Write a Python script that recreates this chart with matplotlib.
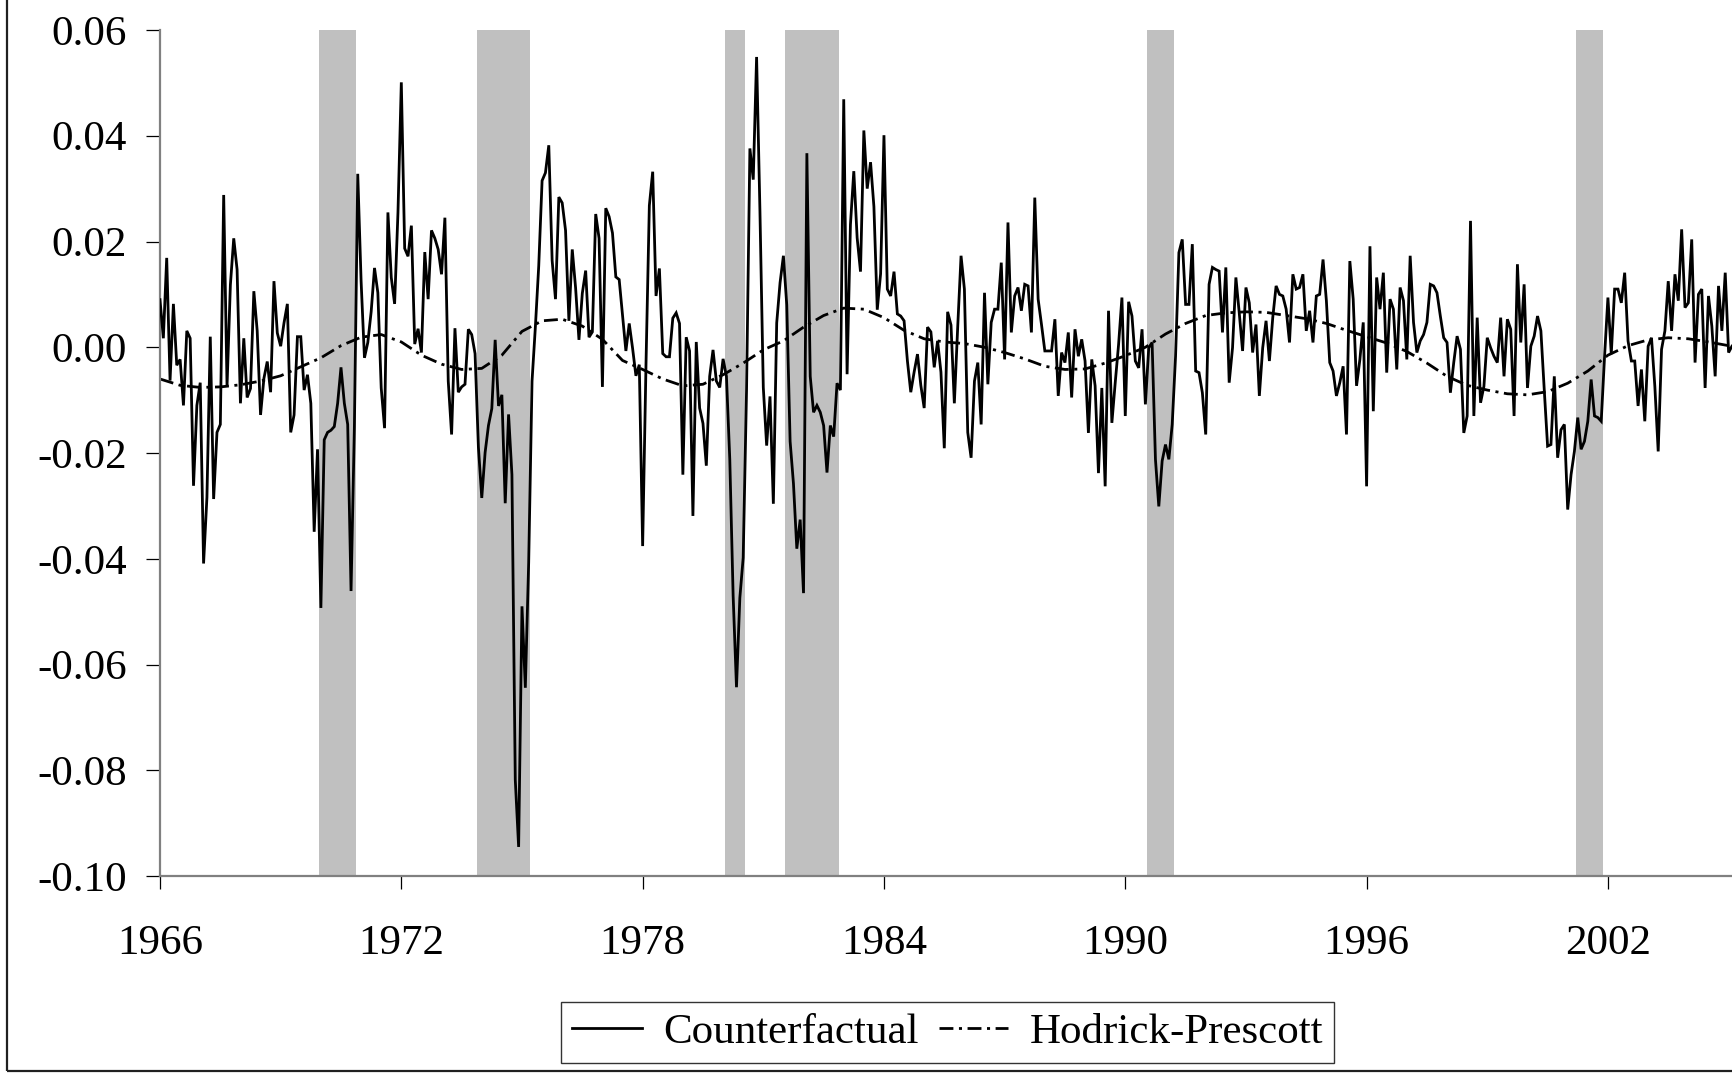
import matplotlib
matplotlib.use("Agg")
import matplotlib.pyplot as plt
import numpy as np
from matplotlib.patches import Rectangle

# ---------------- data ----------------
start_year = 1966  # monthly series starting January 1966

counterfactual = [
    # 1966
    0.0090, 0.0017, 0.0169, -0.0063, 0.0082, -0.0034, -0.0023, -0.0110, 0.0031, 0.0017, -0.0262, -0.0110,
    # 1967
    -0.0067, -0.0409, -0.0284, 0.0020, -0.0287, -0.0161, -0.0146, 0.0288, -0.0074, 0.0118, 0.0206, 0.0147,
    # 1968
    -0.0106, 0.0017, -0.0095, -0.0078, 0.0106, 0.0031, -0.0128, -0.0059, -0.0027, -0.0085, 0.0125, 0.0027,
    # 1969
    0.0002, 0.0046, 0.0082, -0.0161, -0.0128, 0.0020, 0.0020, -0.0081, -0.0052, -0.0106, -0.0349, -0.0193,
    # 1970
    -0.0493, -0.0175, -0.0161, -0.0157, -0.0150, -0.0106, -0.0038, -0.0106, -0.0146, -0.0461, -0.0150, 0.0328,
    # 1971
    0.0125, -0.0020, 0.0009, 0.0067, 0.0150, 0.0103, -0.0077, -0.0153, 0.0255, 0.0132, 0.0082, 0.0255,
    # 1972
    0.0501, 0.0187, 0.0172, 0.0230, 0.0006, 0.0035, -0.0010, 0.0180, 0.0091, 0.0221, 0.0206, 0.0185,
    # 1973
    0.0138, 0.0245, -0.0064, -0.0165, 0.0036, -0.0085, -0.0075, -0.0070, 0.0034, 0.0024, -0.0012, -0.0189,
    # 1974
    -0.0285, -0.0199, -0.0148, -0.0116, 0.0014, -0.0111, -0.0090, -0.0295, -0.0127, -0.0241, -0.0818, -0.0945,
    # 1975
    -0.0490, -0.0644, -0.0407, -0.0064, 0.0039, 0.0154, 0.0315, 0.0330, 0.0382, 0.0164, 0.0091, 0.0284,
    # 1976
    0.0273, 0.0221, 0.0050, 0.0185, 0.0112, 0.0014, 0.0102, 0.0145, 0.0019, 0.0029, 0.0252, 0.0206,
    # 1977
    -0.0075, 0.0263, 0.0247, 0.0216, 0.0133, 0.0128, 0.0060, -0.0007, 0.0045, -0.0002, -0.0054, -0.0033,
    # 1978
    -0.0376, -0.0033, 0.0268, 0.0332, 0.0097, 0.0149, -0.0012, -0.0018, -0.0018, 0.0055, 0.0065, 0.0045,
    # 1979
    -0.0241, 0.0019, -0.0007, -0.0319, 0.0010, -0.0115, -0.0144, -0.0224, -0.0055, -0.0005, -0.0064, -0.0076,
    # 1980
    -0.0022, -0.0055, -0.0212, -0.0470, -0.0643, -0.0474, -0.0398, -0.0081, 0.0376, 0.0317, 0.0549, 0.0257,
    # 1981
    -0.0076, -0.0186, -0.0093, -0.0296, 0.0046, 0.0122, 0.0173, 0.0080, -0.0178, -0.0258, -0.0381, -0.0326,
    # 1982
    -0.0465, 0.0367, -0.0055, -0.0123, -0.0110, -0.0123, -0.0148, -0.0237, -0.0148, -0.0169, -0.0068, -0.0081,
    # 1983
    0.0469, -0.0051, 0.0232, 0.0333, 0.0207, 0.0143, 0.0410, 0.0300, 0.0350, 0.0266, 0.0071, 0.0139,
    # 1984
    0.0401, 0.0110, 0.0097, 0.0143, 0.0063, 0.0059, 0.0050, -0.0026, -0.0085, -0.0047, -0.0013, -0.0072,
    # 1985
    -0.0115, 0.0038, 0.0029, -0.0038, 0.0012, -0.0047, -0.0191, 0.0067, 0.0042, -0.0106, 0.0038, 0.0173,
    # 1986
    0.0110, -0.0161, -0.0209, -0.0064, -0.0029, -0.0146, 0.0103, -0.0070, 0.0047, 0.0072, 0.0072, 0.0160,
    # 1987
    -0.0023, 0.0236, 0.0028, 0.0097, 0.0113, 0.0069, 0.0119, 0.0116, 0.0028, 0.0283, 0.0091, 0.0043,
    # 1988
    -0.0007, -0.0007, -0.0007, 0.0053, -0.0092, -0.0010, -0.0029, 0.0028, -0.0095, 0.0034, -0.0017, 0.0015,
    # 1989
    -0.0026, -0.0162, -0.0023, -0.0073, -0.0238, -0.0077, -0.0263, 0.0069, -0.0143, -0.0067, 0.0005, 0.0094,
    # 1990
    -0.0130, 0.0086, 0.0059, -0.0026, -0.0039, 0.0034, -0.0108, -0.0001, 0.0009, -0.0212, -0.0301, -0.0215,
    # 1991
    -0.0184, -0.0212, -0.0146, -0.0017, 0.0179, 0.0204, 0.0081, 0.0081, 0.0195, -0.0045, -0.0048, -0.0086,
    # 1992
    -0.0165, 0.0119, 0.0151, 0.0147, 0.0144, 0.0028, 0.0151, -0.0067, -0.0001, 0.0132, 0.0065, -0.0007,
    # 1993
    0.0113, 0.0084, -0.0010, 0.0043, -0.0092, -0.0001, 0.0050, -0.0026, 0.0056, 0.0116, 0.0100, 0.0097,
    # 1994
    0.0072, 0.0009, 0.0138, 0.0110, 0.0113, 0.0138, 0.0031, 0.0069, 0.0009, 0.0097, 0.0100, 0.0166,
    # 1995
    0.0088, -0.0029, -0.0045, -0.0092, -0.0067, -0.0036, -0.0165, 0.0163, 0.0091, -0.0073, -0.0023, 0.0047,
    # 1996
    -0.0263, 0.0191, -0.0121, 0.0132, 0.0072, 0.0141, -0.0048, 0.0091, 0.0072, -0.0042, 0.0113, 0.0088,
    # 1997
    -0.0023, 0.0173, 0.0047, -0.0010, 0.0012, 0.0024, 0.0047, 0.0119, 0.0116, 0.0103, 0.0059, 0.0018,
    # 1998
    0.0009, -0.0086, -0.0029, 0.0021, -0.0004, -0.0162, -0.0130, 0.0239, -0.0130, 0.0056, -0.0105, -0.0074,
    # 1999
    0.0018, -0.0001, -0.0017, -0.0029, 0.0056, -0.0055, 0.0053, 0.0034, -0.0130, 0.0157, 0.0009, 0.0119,
    # 2000
    -0.0077, 0.0002, 0.0021, 0.0059, 0.0031, -0.0080, -0.0187, -0.0184, -0.0055, -0.0209, -0.0156, -0.0146,
    # 2001
    -0.0307, -0.0241, -0.0197, -0.0133, -0.0193, -0.0178, -0.0140, -0.0061, -0.0130, -0.0133, -0.0140, -0.0017,
    # 2002
    0.0094, -0.0013, 0.0110, 0.0110, 0.0084, 0.0141, 0.0012, -0.0026, -0.0026, -0.0111, -0.0042, -0.0140,
    # 2003
    0.0002, 0.0018, -0.0074, -0.0197, -0.0004, 0.0031, 0.0125, 0.0031, 0.0138, 0.0088, 0.0223, 0.0075,
    # 2004
    0.0084, 0.0204, -0.0029, 0.0100, 0.0110, -0.0077, 0.0097, 0.0040, -0.0055, 0.0116, 0.0031, 0.0141,
    # 2005
    -0.0010, 0.0002,
]

# Hodrick-Prescott trend, read every half year
hp_years = [1966.0, 1966.5, 1967.0, 1967.5, 1968.0, 1968.5, 1969.0, 1969.5, 1970.0, 1970.5,
            1971.0, 1971.5, 1972.0, 1972.5, 1973.0, 1973.5, 1974.0, 1974.5, 1975.0, 1975.5,
            1976.0, 1976.5, 1977.0, 1977.5, 1978.0, 1978.5, 1979.0, 1979.5, 1980.0, 1980.5,
            1981.0, 1981.5, 1982.0, 1982.5, 1983.0, 1983.5, 1984.0, 1984.5, 1985.0, 1985.5,
            1986.0, 1986.5, 1987.0, 1987.5, 1988.0, 1988.5, 1989.0, 1989.5, 1990.0, 1990.5,
            1991.0, 1991.5, 1992.0, 1992.5, 1993.0, 1993.5, 1994.0, 1994.5, 1995.0, 1995.5,
            1996.0, 1996.5, 1997.0, 1997.5, 1998.0, 1998.5, 1999.0, 1999.5, 2000.0, 2000.5,
            2001.0, 2001.5, 2002.0, 2002.5, 2003.0, 2003.5, 2004.0, 2004.5, 2005.0, 2005.1]
hp_trend = [-0.0060, -0.0072, -0.0076, -0.0075, -0.0071, -0.0064, -0.0054, -0.0037, -0.0020, 0.0003,
            0.0019, 0.0024, 0.0010, -0.0015, -0.0032, -0.0042, -0.0040, -0.0015, 0.0030, 0.0050,
            0.0053, 0.0040, 0.0015, -0.0025, -0.0042, -0.0060, -0.0073, -0.0070, -0.0052, -0.0030,
            -0.0005, 0.0012, 0.0038, 0.0060, 0.0074, 0.0072, 0.0056, 0.0032, 0.0016, 0.0010,
            0.0007, 0.0000, -0.0010, -0.0022, -0.0036, -0.0042, -0.0041, -0.0030, -0.0016, 0.0000,
            0.0025, 0.0045, 0.0060, 0.0065, 0.0067, 0.0066, 0.0060, 0.0054, 0.0045, 0.0032,
            0.0020, 0.0008, -0.0008, -0.0030, -0.0055, -0.0072, -0.0081, -0.0088, -0.0090, -0.0084,
            -0.0068, -0.0045, -0.0015, 0.0003, 0.0014, 0.0018, 0.0016, 0.0010, 0.0003, 0.0002]

# NBER recessions (start month, end month)
recessions = [("1969-12", "1970-11"), ("1973-11", "1975-03"), ("1980-01", "1980-07"),
              ("1981-07", "1982-11"), ("1990-07", "1991-03"), ("2001-03", "2001-11")]

xtick_years = [1966, 1972, 1978, 1984, 1990, 1996, 2002]
ytick_values = [-0.10, -0.08, -0.06, -0.04, -0.02, 0.00, 0.02, 0.04, 0.06]
ytick_labels = ["-0.10", "-0.08", "-0.06", "-0.04", "-0.02", "0.00", "0.02", "0.04", "0.06"]

# ---------------- plot ----------------
plt.rcParams['font.family'] = ['Liberation Serif', 'DejaVu Serif']
plt.rcParams['lines.scale_dashes'] = False

W, H = 1733, 1073
fig = plt.figure(figsize=(W / 100, H / 100), dpi=100)
ax = fig.add_axes([160 / W, 197 / H, (W - 160) / W, (876 - 30) / H])


def ym(s):
    y, m = s.split("-")
    return int(y) + (int(m) - 0.5) / 12.0


for s, e in recessions:
    ax.axvspan(ym(s), ym(e), color="#c0c0c0", lw=0, zorder=0)

months = np.arange(len(counterfactual))
x_cf = start_year + months / 12.0
ax.plot(x_cf, counterfactual, color="black", lw=2.0, solid_joinstyle="miter",
        label="Counterfactual", zorder=3)
ax.plot(hp_years, hp_trend, color="black", lw=2.0, dashes=[10, 4, 2.2, 4],
        label="Hodrick-Prescott", zorder=2)

ax.set_xlim(1966, 1966 + (W - 160) / 40.22)
ax.set_ylim(-0.10, 0.06)
ax.set_xticks(xtick_years)
ax.set_xticklabels([str(y) for y in xtick_years])
ax.set_yticks(ytick_values)
ax.set_yticklabels(ytick_labels)

for side in ["top", "right"]:
    ax.spines[side].set_visible(False)
for side in ["left", "bottom"]:
    ax.spines[side].set_color("#808080")
    ax.spines[side].set_linewidth(1.6)

ax.tick_params(axis="both", direction="out", color="black", width=0.9, labelsize=31)
ax.tick_params(axis="y", length=10, pad=14)
ax.tick_params(axis="x", length=9.5, pad=25.5)

leg = fig.legend(loc="center", bbox_to_anchor=(0.5468, 0.0378), ncol=2, frameon=True,
                 fancybox=False, shadow=False, edgecolor="black", fontsize=31,
                 handlelength=1.62, handletextpad=0.49, columnspacing=0.47,
                 borderpad=0.25, borderaxespad=0)
leg.get_frame().set_linewidth(1.0)

fig.add_artist(Rectangle((7 / W, 2 / H), 2, 2, transform=fig.transFigure, fill=False,
                         edgecolor="#202020", lw=1.6, clip_on=False))

fig.savefig("out.png", dpi=100)
